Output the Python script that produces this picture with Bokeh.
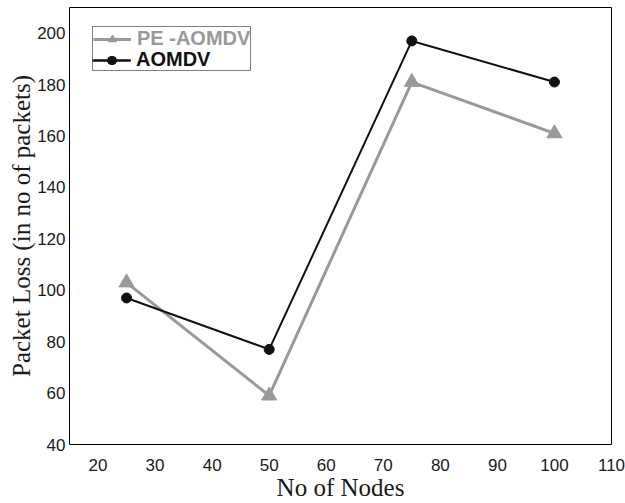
from bokeh.plotting import figure
from bokeh.models import Legend, LegendItem, Range1d, FixedTicker
from bokeh.embed import file_html
from bokeh.resources import INLINE

# Data
nodes = [25, 50, 75, 100]
pe_aomdv = [103, 59, 181, 161]
aomdv = [97, 77, 197, 181]
x_ticks = [20, 30, 40, 50, 60, 70, 80, 90, 100, 110]
y_ticks = [40, 60, 80, 100, 120, 140, 160, 180, 200]

GRAY = "#999999"
BLACK = "#111111"

p = figure(width=625, height=503, output_backend="svg", toolbar_location=None,
           x_range=Range1d(15, 110), y_range=Range1d(40, 210),
           min_border_top=7, min_border_right=14, min_border_left=69,
           min_border_bottom=0)

p.background_fill_color = "white"
p.border_fill_color = "white"
p.outline_line_color = "black"
p.outline_line_width = 1
p.xgrid.grid_line_color = None
p.ygrid.grid_line_color = None

for ax in (p.xaxis[0], p.yaxis[0]):
    ax.axis_line_color = None
    ax.major_tick_line_color = None
    ax.minor_tick_line_color = None
    ax.major_tick_out = 0
    ax.major_tick_in = 0
    ax.minor_tick_out = 0
    ax.minor_tick_in = 0
    ax.major_label_text_font = "Liberation Sans"
    ax.major_label_text_font_size = "17px"
    ax.major_label_text_color = "#1a1a1a"
    ax.axis_label_text_font = "Liberation Serif"
    ax.axis_label_text_font_size = "25px"
    ax.axis_label_text_font_style = "normal"
    ax.axis_label_text_color = "#1a1a1a"

p.xaxis.ticker = FixedTicker(ticks=x_ticks)
p.yaxis.ticker = FixedTicker(ticks=y_ticks)
p.xaxis.major_label_standoff = 14
p.yaxis.major_label_standoff = 4
p.xaxis.axis_label = "No of Nodes"
p.yaxis.axis_label = "Packet Loss (in no of packets)"
p.xaxis.axis_label_standoff = 0
p.yaxis.axis_label_standoff = -1

g_line = p.line(nodes, pe_aomdv, line_color=GRAY, line_width=3)
g_mark = p.scatter(nodes, pe_aomdv, marker="triangle", size=15,
                   fill_color=GRAY, line_color=GRAY)
b_line = p.line(nodes, aomdv, line_color=BLACK, line_width=2)
b_mark = p.scatter(nodes, aomdv, marker="circle", size=10,
                   fill_color=BLACK, line_color=BLACK)

common = dict(label_text_font="Liberation Sans", label_text_font_size="20px",
              label_text_font_style="bold", glyph_width=38, glyph_height=20,
              label_height=20, label_standoff=6, spacing=0, margin=0)

PAD = 0
LX, LY = 23, 373
# boxed legend: grey item + a row holding the black glyph
leg1 = Legend(items=[LegendItem(label="PE -AOMDV", renderers=[g_line, g_mark]),
                     LegendItem(label=" ", renderers=[b_line, b_mark])],
              location=(LX, LY), padding=PAD, label_text_color=GRAY,
              border_line_color="black", border_line_width=1,
              background_fill_color="white", background_fill_alpha=1, **common)
# black label for the second row
leg2 = Legend(items=[LegendItem(label="AOMDV", renderers=[b_line, b_mark])],
              location=(LX + PAD, LY + PAD), padding=0, label_text_color=BLACK,
              border_line_color=None, background_fill_alpha=0, **common)
p.add_layout(leg1, "center")
p.add_layout(leg2, "center")

open("out.html", "w").write(file_html(p, INLINE))
